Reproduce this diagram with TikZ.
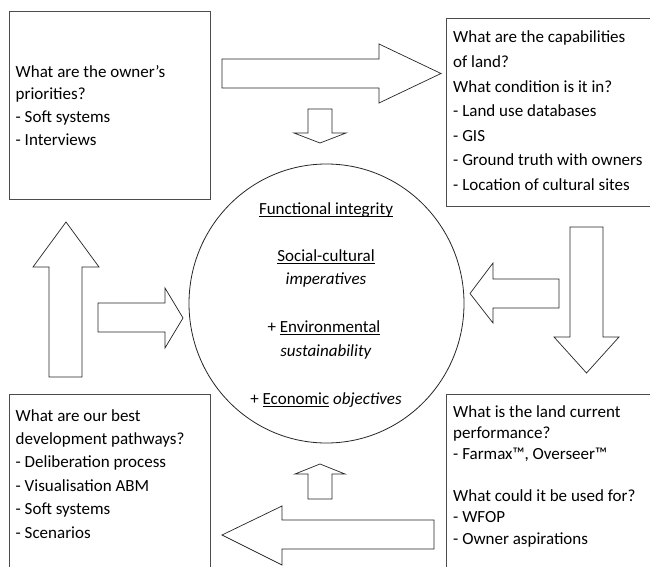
\documentclass[tikz,border=0pt]{standalone}
\usepackage{fontspec}
\setmainfont{Carlito}
\usetikzlibrary{shapes.geometric}
\newcommand\myul[1]{\setbox0\hbox{#1}\rlap{\rule[-2.6pt]{\wd0}{1pt}}\box0\relax}
\begin{document}
\begin{tikzpicture}[x=1pt,y=-1pt,
  box/.style={draw=black!70, line width=0.9pt, fill=white, inner sep=0, anchor=north west},
  blockarrow/.style={draw=black!85, line width=0.7pt, fill=white, line join=miter},
  txt/.style={font=\fontsize{17}{#1}\selectfont, inner sep=0, anchor=base west, align=left},
  ctxt/.style={font=\fontsize{17}{21}\selectfont, inner sep=0, anchor=base}]
\clip (0,0) rectangle (650,567);
\fill[white] (0,0) rectangle (650,567);
% boxes
\node[box, minimum width=201pt, minimum height=188pt] (owner) at (9,11) {};
\node[box, minimum width=214pt, minimum height=188pt] (land) at (446,18) {};
\node[box, minimum width=201pt, minimum height=200pt] (path) at (9,394) {};
\node[box, minimum width=214pt, minimum height=200pt] (perf) at (446,394) {};
% hub
\node[draw=black!85, line width=0.8pt, ellipse, minimum width=275pt, minimum height=279pt, inner sep=0] (hub) at (326.5,303.5) {};
% arrows
\draw[blockarrow] (222,59) -- (379,59) -- (379,44) -- (441,73.5) -- (379,103) -- (379,88) -- (222,88) -- cycle;
\draw[blockarrow] (308,109) -- (332,109) -- (332,133) -- (346,133) -- (320,143) -- (294,133) -- (308,133) -- cycle;
\draw[blockarrow] (570,227) -- (603,227) -- (603,337) -- (619,337) -- (586.5,373) -- (554,337) -- (570,337) -- cycle;
\draw[blockarrow] (559,279) -- (559,308) -- (493,308) -- (493,323) -- (470,293.5) -- (493,263) -- (493,279) -- cycle;
\draw[blockarrow] (434,520) -- (434,549) -- (282,549) -- (282,565) -- (222,535) -- (282,506) -- (282,520) -- cycle;
\draw[blockarrow] (308,499) -- (332,499) -- (332,474) -- (345,474) -- (320,464) -- (295,474) -- (308,474) -- cycle;
\draw[blockarrow] (49,377) -- (82,377) -- (82,267) -- (99,267) -- (66,222) -- (33,267) -- (49,267) -- cycle;
\draw[blockarrow] (98,303) -- (165,303) -- (165,288) -- (183,318) -- (165,348) -- (165,332) -- (98,332) -- cycle;
% box texts (anchored at the baseline of the last line)
\node[txt=22.5] (t1) at (15.5,145) {What are the owner’s\\priorities?\\- Soft systems\\- Interviews};
\node[txt=24.6] (t2) at (453,190.5) {What are the capabilities\\of land?\\What condition is it in?\\- Land use databases\\- GIS\\- Ground truth with owners\\- Location of cultural sites};
\node[txt=23.4] (t3) at (15.5,538) {What are our best\\development pathways?\\- Deliberation process\\- Visualisation ABM\\- Soft systems\\- Scenarios};
\node[txt=21.1] (t4) at (453,544) {What is the land current\\performance?\\- Farmax™, Overseer™\\[21.1pt]What could it be used for?\\- WFOP\\- Owner aspirations};
% hub texts
\node[ctxt] (c1) at (326,214.5) {\myul{Functional integrity}};
\node[ctxt] (c2) at (326,261.5) {\myul{Social-cultural}};
\node[ctxt] (c3) at (326,284.5) {\textit{imperatives}};
\node[ctxt] (c4) at (324,332.5) {+ \myul{Environmental}};
\node[ctxt] (c5) at (326,356.5) {\textit{sustainability}};
\node[ctxt] (c6) at (326,404.5) {+ \myul{Economic} \textit{objectives}};
\end{tikzpicture}
\end{document}
